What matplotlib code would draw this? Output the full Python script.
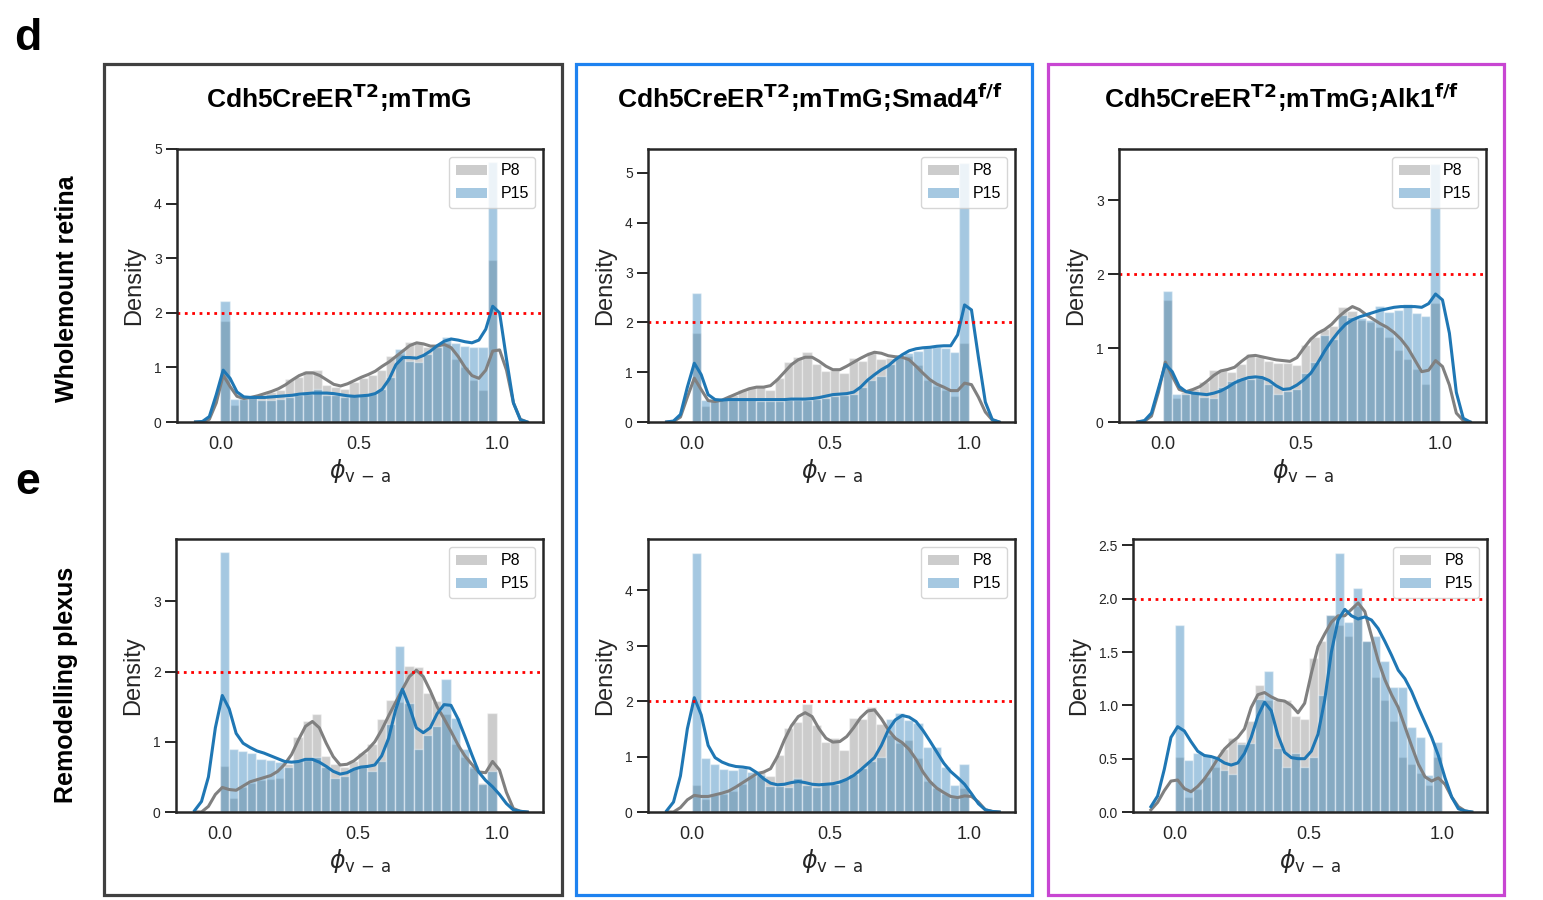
import matplotlib
matplotlib.use("Agg")
import matplotlib.pyplot as plt
from matplotlib import font_manager
from matplotlib.patches import Patch, Rectangle
from matplotlib.ticker import FormatStrFormatter
import numpy as np

# ── data ──────────────────────────────────────────────────────
BIN_EDGES = [0.0, 0.0333, 0.0667, 0.1, 0.1333, 0.1667, 0.2, 0.2333, 0.2667, 0.3,
             0.3333, 0.3667, 0.4, 0.4333, 0.4667, 0.5, 0.5333, 0.5667, 0.6, 0.6333,
             0.6667, 0.7, 0.7333, 0.7667, 0.8, 0.8333, 0.8667, 0.9, 0.9333, 0.9667, 1.0]

KDE_X = [-0.09, -0.065, -0.04, -0.015,
         0.01, 0.035, 0.06, 0.085, 0.11, 0.135, 0.16, 0.185, 0.21, 0.235,
         0.26, 0.285, 0.31, 0.335, 0.36, 0.385, 0.41, 0.435, 0.46, 0.485,
         0.51, 0.535, 0.56, 0.585, 0.61, 0.635, 0.66, 0.685, 0.71, 0.735,
         0.76, 0.785, 0.81, 0.835, 0.86, 0.885, 0.91, 0.935, 0.96, 0.985,
         1.01, 1.035, 1.06, 1.085, 1.11]

# Wholemount retina -- control
WM_CTRL_P8_HIST = [1.85, 0.32, 0.45, 0.47, 0.5, 0.55, 0.58, 0.78, 0.82, 0.93,
                   0.95, 0.68, 0.64, 0.6, 0.73, 0.81, 0.86, 0.95, 1.2, 1.25,
                   1.47, 1.45, 1.38, 1.4, 1.45, 1.15, 1.0, 0.77, 0.58, 2.96]
WM_CTRL_P15_HIST = [2.22, 0.42, 0.43, 0.45, 0.4, 0.41, 0.42, 0.46, 0.49, 0.52,
                    0.6, 0.5, 0.5, 0.46, 0.47, 0.49, 0.52, 0.6, 0.83, 1.34,
                    1.12, 1.1, 1.25, 1.38, 1.55, 1.44, 1.4, 1.38, 1.38, 4.76]
WM_CTRL_P8_KDE = [0.0, 0.0, 0.05, 0.35,
                  0.86, 0.65, 0.47, 0.43, 0.45, 0.48, 0.52, 0.56, 0.61, 0.68,
                  0.77, 0.85, 0.9, 0.9, 0.85, 0.77, 0.69, 0.66, 0.7, 0.76,
                  0.82, 0.87, 0.93, 1.02, 1.1, 1.2, 1.3, 1.4, 1.45, 1.43,
                  1.39, 1.39, 1.42, 1.36, 1.2, 1.0, 0.85, 0.8, 0.95, 1.3,
                  1.32, 0.95, 0.35, 0.05, 0.0]
WM_CTRL_P15_KDE = [0.0, 0.01, 0.1, 0.5,
                   0.95, 0.8, 0.55, 0.46, 0.45, 0.45, 0.45, 0.46, 0.47, 0.48,
                   0.49, 0.51, 0.52, 0.53, 0.53, 0.53, 0.52, 0.5, 0.48, 0.47,
                   0.48, 0.49, 0.52, 0.6, 0.78, 1.05, 1.18, 1.18, 1.17, 1.22,
                   1.3, 1.4, 1.48, 1.52, 1.5, 1.47, 1.45, 1.5, 1.7, 2.12,
                   2.0, 1.15, 0.35, 0.04, 0.0]

# Wholemount retina -- Smad4
WM_SMAD4_P8_HIST = [1.79, 0.32, 0.42, 0.47, 0.55, 0.65, 0.7, 0.7, 0.64, 0.89,
                    1.2, 1.3, 1.4, 1.16, 1.03, 1.04, 0.99, 1.28, 1.23, 1.4,
                    1.27, 1.29, 1.3, 1.32, 1.15, 0.84, 0.72, 0.65, 0.52, 1.58]
WM_SMAD4_P15_HIST = [2.58, 0.44, 0.44, 0.45, 0.45, 0.45, 0.45, 0.43, 0.42, 0.43,
                     0.45, 0.45, 0.45, 0.46, 0.48, 0.53, 0.55, 0.57, 0.7, 0.85,
                     0.92, 1.17, 1.3, 1.38, 1.43, 1.5, 1.5, 1.48, 1.4, 5.2]
WM_SMAD4_P8_KDE = [0.0, 0.01, 0.1, 0.5,
                   0.88, 0.65, 0.43, 0.41, 0.44, 0.5, 0.56, 0.62, 0.67, 0.7,
                   0.7, 0.73, 0.85, 1.0, 1.15, 1.25, 1.3, 1.3, 1.22, 1.12,
                   1.05, 1.05, 1.12, 1.2, 1.28, 1.35, 1.4, 1.38, 1.33, 1.31,
                   1.3, 1.25, 1.12, 0.98, 0.85, 0.76, 0.7, 0.63, 0.63, 0.78,
                   0.75, 0.5, 0.2, 0.04, 0.0]
WM_SMAD4_P15_KDE = [0.0, 0.02, 0.15, 0.7,
                    1.18, 0.95, 0.55, 0.45, 0.44, 0.45, 0.45, 0.45, 0.45, 0.45,
                    0.45, 0.45, 0.45, 0.45, 0.46, 0.46, 0.46, 0.47, 0.49, 0.52,
                    0.55, 0.56, 0.57, 0.6, 0.7, 0.84, 0.95, 1.05, 1.13, 1.25,
                    1.35, 1.43, 1.47, 1.49, 1.5, 1.52, 1.53, 1.53, 1.75, 2.35,
                    2.25, 1.3, 0.4, 0.05, 0.0]

# Wholemount retina -- Alk1
WM_ALK1_P8_HIST = [1.65, 0.32, 0.4, 0.45, 0.54, 0.7, 0.7, 0.68, 0.78, 0.92,
                   0.88, 0.82, 0.8, 0.8, 0.77, 1.04, 1.15, 1.26, 1.3, 1.55,
                   1.5, 1.38, 1.35, 1.28, 1.15, 0.97, 0.85, 0.72, 0.52, 1.61]
WM_ALK1_P15_HIST = [1.77, 0.38, 0.38, 0.4, 0.34, 0.32, 0.47, 0.56, 0.6, 0.58,
                    0.6, 0.52, 0.38, 0.42, 0.45, 0.66, 0.81, 1.17, 1.12, 1.44,
                    1.42, 1.4, 1.38, 1.57, 1.49, 1.51, 1.6, 1.48, 1.43, 3.49]
WM_ALK1_P8_KDE = [0.0, 0.01, 0.08, 0.4,
                  0.81, 0.62, 0.44, 0.41, 0.44, 0.48, 0.55, 0.63, 0.69, 0.71,
                  0.74, 0.82, 0.89, 0.9, 0.88, 0.86, 0.84, 0.83, 0.82, 0.87,
                  1.0, 1.12, 1.2, 1.25, 1.32, 1.42, 1.5, 1.56, 1.52, 1.45,
                  1.39, 1.33, 1.28, 1.21, 1.12, 1.0, 0.84, 0.68, 0.7, 0.83,
                  0.75, 0.5, 0.12, 0.02, 0.0]
WM_ALK1_P15_KDE = [0.0, 0.02, 0.12, 0.45,
                   0.78, 0.68, 0.48, 0.41, 0.39, 0.38, 0.37, 0.39, 0.42, 0.47,
                   0.53, 0.57, 0.6, 0.61, 0.6, 0.56, 0.49, 0.44, 0.45, 0.5,
                   0.57, 0.66, 0.8, 0.96, 1.1, 1.22, 1.32, 1.38, 1.42, 1.45,
                   1.48, 1.51, 1.53, 1.55, 1.56, 1.56, 1.56, 1.55, 1.6, 1.73,
                   1.65, 1.2, 0.4, 0.05, 0.0]

# Remodelling plexus -- control
RP_CTRL_P8_HIST = [0.65, 0.2, 0.35, 0.42, 0.45, 0.47, 0.48, 0.68, 1.07, 1.3,
                   1.39, 0.8, 0.68, 0.64, 0.72, 0.84, 0.97, 1.33, 1.6, 1.57,
                   2.08, 2.07, 1.7, 1.58, 1.4, 0.97, 0.78, 0.62, 0.42, 1.41]
RP_CTRL_P15_HIST = [3.7, 0.9, 0.87, 0.84, 0.76, 0.74, 0.71, 0.64, 0.73, 0.74,
                    0.78, 0.64, 0.48, 0.52, 0.62, 0.64, 0.58, 0.72, 1.25, 2.36,
                    1.55, 0.9, 1.1, 1.23, 1.89, 1.34, 0.9, 0.65, 0.4, 0.59]
RP_CTRL_P8_KDE = [0.0, 0.0, 0.08, 0.25,
                  0.35, 0.32, 0.31, 0.37, 0.43, 0.46, 0.49, 0.52, 0.58, 0.68,
                  0.82, 1.03, 1.22, 1.29, 1.2, 0.98, 0.79, 0.67, 0.68, 0.73,
                  0.81, 0.89, 1.0, 1.17, 1.37, 1.56, 1.75, 1.93, 2.02, 1.93,
                  1.73, 1.5, 1.33, 1.15, 0.96, 0.8, 0.68, 0.57, 0.56, 0.72,
                  0.6, 0.28, 0.05, 0.01, 0.0]
RP_CTRL_P15_KDE = [0.02, 0.15, 0.5, 1.2,
                   1.66, 1.47, 1.12, 0.98, 0.92, 0.87, 0.84, 0.8, 0.76, 0.72,
                   0.71, 0.72, 0.75, 0.75, 0.71, 0.65, 0.58, 0.54, 0.56, 0.61,
                   0.64, 0.65, 0.67, 0.8, 1.05, 1.45, 1.75, 1.5, 1.2, 1.13,
                   1.2, 1.4, 1.53, 1.52, 1.33, 1.08, 0.82, 0.57, 0.45, 0.36,
                   0.25, 0.12, 0.03, 0.01, 0.0]

# Remodelling plexus -- Smad4
RP_SMAD4_P8_HIST = [0.49, 0.23, 0.3, 0.32, 0.38, 0.5, 0.65, 0.74, 0.65, 1.02,
                    1.52, 1.63, 1.94, 1.56, 1.27, 1.34, 1.12, 1.69, 1.67, 1.89,
                    1.59, 1.38, 1.24, 1.3, 0.98, 0.55, 0.44, 0.32, 0.26, 0.44]
RP_SMAD4_P15_HIST = [4.67, 0.97, 0.86, 0.78, 0.76, 0.8, 0.72, 0.66, 0.46, 0.47,
                     0.45, 0.62, 0.49, 0.45, 0.5, 0.5, 0.59, 0.68, 0.8, 0.92,
                     1.0, 1.67, 1.78, 1.66, 1.6, 1.17, 1.17, 0.82, 0.49, 0.86]
RP_SMAD4_P8_KDE = [0.0, 0.0, 0.08, 0.22,
                   0.3, 0.28, 0.28, 0.31, 0.34, 0.38, 0.45, 0.53, 0.61, 0.69,
                   0.72, 0.78, 1.0, 1.3, 1.55, 1.72, 1.79, 1.72, 1.5, 1.33,
                   1.26, 1.27, 1.36, 1.52, 1.7, 1.82, 1.84, 1.68, 1.48, 1.33,
                   1.25, 1.13, 0.95, 0.72, 0.55, 0.43, 0.35, 0.28, 0.26, 0.29,
                   0.28, 0.18, 0.04, 0.01, 0.0]
RP_SMAD4_P15_KDE = [0.02, 0.18, 0.65, 1.5,
                    2.06, 1.75, 1.2, 0.98, 0.9, 0.85, 0.82, 0.81, 0.79, 0.71,
                    0.6, 0.52, 0.49, 0.5, 0.53, 0.55, 0.53, 0.5, 0.49, 0.5,
                    0.51, 0.54, 0.59, 0.66, 0.76, 0.87, 0.98, 1.2, 1.48, 1.66,
                    1.74, 1.71, 1.63, 1.47, 1.28, 1.08, 0.88, 0.73, 0.62, 0.5,
                    0.33, 0.15, 0.04, 0.01, 0.0]

# Remodelling plexus -- Alk1
RP_ALK1_P8_HIST = [0.52, 0.14, 0.22, 0.33, 0.42, 0.59, 0.69, 0.66, 0.85, 1.19,
                   1.05, 1.05, 1.05, 0.9, 0.87, 1.44, 1.6, 1.85, 1.75, 1.65,
                   1.93, 1.6, 1.27, 1.05, 0.85, 0.52, 0.45, 0.37, 0.25, 0.52]
RP_ALK1_P15_HIST = [1.75, 0.49, 0.55, 0.53, 0.51, 0.39, 0.36, 0.64, 0.65, 1.06,
                    1.32, 0.6, 0.42, 0.55, 0.42, 0.52, 1.1, 1.85, 2.43, 1.78,
                    2.1, 1.6, 1.65, 1.42, 1.17, 1.17, 0.8, 0.7, 0.35, 0.66]
RP_ALK1_P8_KDE = [0.02, 0.09, 0.2, 0.29,
                  0.3, 0.22, 0.19, 0.24, 0.31, 0.4, 0.5, 0.59, 0.65, 0.7,
                  0.78, 0.98, 1.1, 1.12, 1.08, 1.05, 1.04, 1.0, 0.93, 1.02,
                  1.3, 1.55, 1.67, 1.78, 1.84, 1.84, 1.9, 1.96, 1.88, 1.65,
                  1.42, 1.24, 1.1, 0.98, 0.8, 0.62, 0.45, 0.33, 0.29, 0.32,
                  0.26, 0.14, 0.05, 0.01, 0.0]
RP_ALK1_P15_KDE = [0.05, 0.15, 0.4, 0.7,
                   0.8, 0.76, 0.66, 0.57, 0.53, 0.52, 0.5, 0.46, 0.44, 0.46,
                   0.55, 0.7, 0.9, 1.03, 0.95, 0.72, 0.56, 0.51, 0.5, 0.5,
                   0.57, 0.73, 1.05, 1.5, 1.8, 1.9, 1.84, 1.81, 1.83, 1.8,
                   1.72, 1.6, 1.47, 1.33, 1.25, 1.13, 0.98, 0.84, 0.7, 0.53,
                   0.32, 0.14, 0.03, 0.01, 0.0]

TITLES = [r"Cdh5CreER$^{\mathbf{T2}}$;mTmG",
          r"Cdh5CreER$^{\mathbf{T2}}$;mTmG;Smad4$^{\mathbf{f/f}}$",
          r"Cdh5CreER$^{\mathbf{T2}}$;mTmG;Alk1$^{\mathbf{f/f}}$"]
ROW_LABELS = ["Wholemount retina", "Remodelling plexus"]
PANEL_LETTERS = ["d", "e"]
LEGEND_LABELS = ["P8", "P15"]
THRESHOLD = 2.0

# ── style ─────────────────────────────────────────────────────
W, H = 1543, 900
GREY = "#808080"
BLUE = "#1f77b4"
BOX_COLOURS = ["#404040", "#1e82f0", "#c846d2"]
SPINE = "#262626"

plt.rcParams["font.family"] = ["Liberation Sans", "DejaVu Sans"]
_names = {f.name for f in font_manager.fontManager.ttflist}
if "Liberation Sans Narrow" in _names:
    TITLE_FONT, TITLE_SIZE = ["Liberation Sans Narrow", "DejaVu Sans"], 23
else:
    TITLE_FONT, TITLE_SIZE = ["Liberation Sans", "DejaVu Sans"], 19


def px_axes(fig, left, top, right, bottom):
    return fig.add_axes([left / W, 1 - bottom / H, (right - left) / W, (bottom - top) / H])


def draw_panel(ax, p8_hist, p15_hist, p8_kde, p15_kde, ylim, yticks, yfmt):
    edges = np.array(BIN_EDGES)
    lefts, widths = edges[:-1], np.diff(edges)
    ax.bar(lefts, p8_hist, width=widths, align="edge", color=GREY, alpha=0.4,
           edgecolor="white", linewidth=1.0)
    ax.plot(KDE_X, p8_kde, color=GREY, lw=2.2)
    ax.bar(lefts, p15_hist, width=widths, align="edge", color=BLUE, alpha=0.4,
           edgecolor="white", linewidth=1.0)
    ax.plot(KDE_X, p15_kde, color=BLUE, lw=2.2)
    ax.axhline(THRESHOLD, color="red", ls=":", lw=2.0)

    ax.set_xlim(-0.157, 1.167)
    ax.set_ylim(*ylim)
    ax.set_xticks([0.0, 0.5, 1.0])
    ax.set_xticklabels(["0.0", "0.5", "1.0"])
    ax.set_yticks(yticks)
    ax.yaxis.set_major_formatter(FormatStrFormatter(yfmt))
    ax.tick_params(axis="x", length=0, pad=10, labelsize=13, colors=SPINE)
    ax.tick_params(axis="y", length=8, width=1.4, pad=3, labelsize=10, colors=SPINE)
    for sp in ax.spines.values():
        sp.set_color(SPINE)
        sp.set_linewidth(1.8)
    ax.set_ylabel("Density", fontsize=17, labelpad=6, color=SPINE)
    ax.set_xlabel(r"$\phi_{\mathrm{v\,-\,a}}$", fontsize=17, labelpad=3, color=SPINE)

    handles = [Patch(facecolor=GREY, alpha=0.4), Patch(facecolor=BLUE, alpha=0.4)]
    ax.legend(handles, LEGEND_LABELS, loc="upper right", fontsize=11.5,
              handlelength=2.0, handleheight=0.55, borderaxespad=0.5)


fig = plt.figure(figsize=(W / 100, H / 100), dpi=100)

AX_PX = [[(177, 149, 543, 422), (648, 149, 1015, 422), (1119, 149, 1486, 422)],
         [(176, 539, 543, 812), (648, 539, 1015, 812), (1133, 539, 1487, 812)]]

panels = [
    [(WM_CTRL_P8_HIST, WM_CTRL_P15_HIST, WM_CTRL_P8_KDE, WM_CTRL_P15_KDE, (0, 5.0), [0, 1, 2, 3, 4, 5], "%d"),
     (WM_SMAD4_P8_HIST, WM_SMAD4_P15_HIST, WM_SMAD4_P8_KDE, WM_SMAD4_P15_KDE, (0, 5.48), [0, 1, 2, 3, 4, 5], "%d"),
     (WM_ALK1_P8_HIST, WM_ALK1_P15_HIST, WM_ALK1_P8_KDE, WM_ALK1_P15_KDE, (0, 3.69), [0, 1, 2, 3], "%d")],
    [(RP_CTRL_P8_HIST, RP_CTRL_P15_HIST, RP_CTRL_P8_KDE, RP_CTRL_P15_KDE, (0, 3.89), [0, 1, 2, 3], "%d"),
     (RP_SMAD4_P8_HIST, RP_SMAD4_P15_HIST, RP_SMAD4_P8_KDE, RP_SMAD4_P15_KDE, (0, 4.92), [0, 1, 2, 3, 4], "%d"),
     (RP_ALK1_P8_HIST, RP_ALK1_P15_HIST, RP_ALK1_P8_KDE, RP_ALK1_P15_KDE, (0, 2.56), [0, 0.5, 1.0, 1.5, 2.0, 2.5], "%.1f")],
]

for r in range(2):
    for c in range(3):
        ax = px_axes(fig, *AX_PX[r][c])
        draw_panel(ax, *panels[r][c])

# genotype boxes and titles
BOX_PX = [(104.5, 64, 561.5, 894.5), (576, 64, 1031.5, 894.5), (1047.5, 64, 1503.5, 894.5)]
for (l, t, rr, b), col, title in zip(BOX_PX, BOX_COLOURS, TITLES):
    fig.add_artist(Rectangle((l / W, 1 - b / H), (rr - l) / W, (b - t) / H,
                             transform=fig.transFigure, fill=False,
                             edgecolor=col, linewidth=2.3))
    fig.text((l + rr) / 2 / W + 0.004, 1 - 98 / H, title, ha="center", va="center",
             fontsize=TITLE_SIZE, fontweight="bold", family=TITLE_FONT)

# row labels and panel letters
fig.text(67 / W, 1 - 289 / H, ROW_LABELS[0], rotation=90, ha="center", va="center",
         fontsize=18, fontweight="bold")
fig.text(66 / W, 1 - 685 / H, ROW_LABELS[1], rotation=90, ha="center", va="center",
         fontsize=18, fontweight="bold")
fig.text(28 / W, 1 - 38 / H, PANEL_LETTERS[0], ha="center", va="center",
         fontsize=32, fontweight="bold")
fig.text(28 / W, 1 - 483 / H, PANEL_LETTERS[1], ha="center", va="center",
         fontsize=32, fontweight="bold")

fig.savefig("out.png", dpi=100, facecolor="white")
